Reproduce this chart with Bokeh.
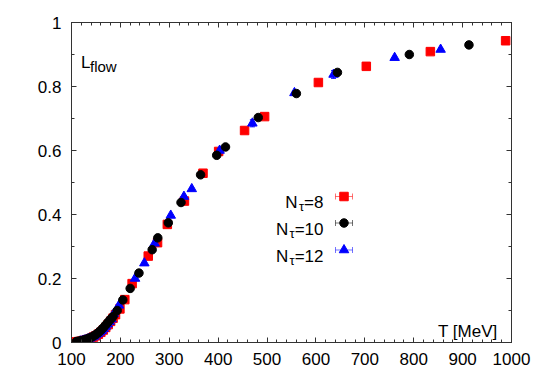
from bokeh.plotting import figure
from bokeh.models import (Range1d, LinearAxis, FixedTicker, CustomJSTickFormatter,
                          Label, Whisker, TeeHead, ColumnDataSource)
from bokeh.embed import file_html
from bokeh.resources import INLINE

# ---------------- data ----------------
T8 = [110, 115, 120, 125, 130, 135, 140, 145, 150, 155, 160, 165, 170, 175, 180, 185, 190,
      199, 209, 224, 257, 276, 296, 331, 369, 401, 454, 495, 605, 703, 834, 988]
L8 = [0.002, 0.003, 0.004, 0.006, 0.008, 0.010, 0.013, 0.017, 0.021, 0.026, 0.032, 0.039,
      0.047, 0.056, 0.066, 0.076, 0.087, 0.105, 0.134, 0.184, 0.270, 0.312, 0.369, 0.442,
      0.529, 0.597, 0.6625, 0.706, 0.8125, 0.863, 0.909, 0.943]
E8 = [0.002] * 17 + [0.003] * 15

T10 = [110, 114, 118, 122, 126, 130, 135, 140, 145, 150, 155, 160, 165, 170, 175, 180, 185,
       193.5, 205, 220, 238, 265, 276.5, 298, 324, 364, 397, 415, 482, 560, 644, 791, 913]
L10 = [0.003, 0.004, 0.005, 0.006, 0.008, 0.010, 0.013, 0.016, 0.020, 0.025, 0.031, 0.038,
       0.046, 0.055, 0.064, 0.073, 0.081, 0.100, 0.133, 0.169, 0.217, 0.290, 0.327, 0.374,
       0.4375, 0.524, 0.585, 0.611, 0.703, 0.778, 0.844, 0.900, 0.930]
E10 = [0.002] * 17 + [0.003] * 16

T12 = [118, 122, 126, 130, 134, 138, 142, 146, 150, 154, 158, 162, 166, 170, 174, 178, 182,
       186.5, 197, 230, 249, 270, 303, 330, 346, 403, 470, 556, 636, 761, 855]
L12 = [0.004, 0.005, 0.007, 0.009, 0.011, 0.013, 0.016, 0.019, 0.023, 0.027, 0.032, 0.037,
       0.043, 0.050, 0.057, 0.065, 0.073, 0.090, 0.116, 0.200, 0.248, 0.310, 0.397, 0.456,
       0.480, 0.600, 0.685, 0.780, 0.8375, 0.890, 0.9156]
E12 = [0.002] * 17 + [0.003] * 9 + [0.011, 0.006, 0.012, 0.004, 0.004]

x_ticks = [100, 200, 300, 400, 500, 600, 700, 800, 900, 1000]
x_minor = [100 + 20 * i for i in range(46)]
y_ticks = [0, 0.2, 0.4, 0.6, 0.8, 1.0]
y_minor = [0.1 * i for i in range(11)]

series_labels = ["=8", "=10", "=12"]
colors = ["#ff0000", "#000000", "#0000ff"]
FONT = "Liberation Sans"

# ---------------- layout ----------------
W, H = 537, 374
BL, BR, BT, BB = 71, 26, 22, 32
FW, FH = W - BL - BR, H - BT - BB
X0, X1, Y0, Y1 = 100, 1000, 0, 1


def dx(px):  # canvas px -> data x
    return X0 + (px - BL) * (X1 - X0) / FW


def dy(py):  # canvas px -> data y
    return Y0 + (BT + FH - py) * (Y1 - Y0) / FH


p = figure(width=W, height=H, x_range=Range1d(X0, X1), y_range=Range1d(Y0, Y1),
           output_backend="svg", toolbar_location=None,
           min_border_left=BL, min_border_right=BR, min_border_top=BT, min_border_bottom=BB)
p.grid.visible = False
p.background_fill_color = "white"
p.border_fill_color = "white"
p.outline_line_color = "#333333"
p.outline_line_width = 1

fmt_y = CustomJSTickFormatter(code="return (Math.round(tick*10)/10).toString();")
blank = CustomJSTickFormatter(code="return '';")

for ax in (p.xaxis[0], p.yaxis[0]):
    ax.axis_line_color = "#333333"
    ax.major_tick_line_color = "#333333"
    ax.minor_tick_line_color = "#333333"
    ax.major_tick_in = 5
    ax.major_tick_out = 0
    ax.minor_tick_in = 3
    ax.minor_tick_out = 0
    ax.major_label_text_font = FONT
    ax.major_label_text_font_size = "17px"
    ax.major_label_text_color = "black"
    ax.major_label_standoff = 10

p.xaxis[0].ticker = FixedTicker(ticks=x_ticks, minor_ticks=x_minor)
p.yaxis[0].ticker = FixedTicker(ticks=y_ticks, minor_ticks=y_minor)
p.yaxis[0].formatter = fmt_y

top = LinearAxis(ticker=FixedTicker(ticks=x_ticks, minor_ticks=x_minor), formatter=blank)
right = LinearAxis(ticker=FixedTicker(ticks=y_ticks, minor_ticks=y_minor), formatter=blank)
for ax in (top, right):
    ax.axis_line_color = "#333333"
    ax.major_tick_line_color = "#333333"
    ax.minor_tick_line_color = "#333333"
    ax.major_tick_in = 5
    ax.major_tick_out = 0
    ax.minor_tick_in = 3
    ax.minor_tick_out = 0
    ax.major_label_standoff = 0
    ax.major_label_text_font_size = "1px"
p.add_layout(top, "above")
p.add_layout(right, "right")

# ---------------- data marks ----------------
markers = ["square", "circle", "triangle"]
sizes = [8.5, 8.5, 9.5]
datasets = [(T8, L8, E8), (T10, L10, E10), (T12, L12, E12)]
order = [0, 2, 1]
for i in order:
    T, L, E = datasets[i]
    src = ColumnDataSource(dict(T=T, L=L, lo=[a - b for a, b in zip(L, E)],
                                hi=[a + b for a, b in zip(L, E)]))
    wh = Whisker(source=src, base="T", lower="lo", upper="hi", dimension="height",
                 line_color=colors[i], line_width=1, level="underlay",
                 upper_head=TeeHead(size=5, line_color=colors[i], line_width=1),
                 lower_head=TeeHead(size=5, line_color=colors[i], line_width=1))
    p.add_layout(wh)
    p.scatter("T", "L", source=src, marker=markers[i], size=sizes[i],
              fill_color=colors[i], line_color=colors[i])

# ---------------- texts ----------------
p.add_layout(Label(x=dx(80.5), y=dy(62), text="L", text_font=FONT, text_font_size="17px",
                   text_baseline="alphabetic", text_align="left", text_color="black"))
p.add_layout(Label(x=dx(89.5), y=dy(66), text="flow", text_font=FONT, text_font_size="15px",
                   text_baseline="alphabetic", text_align="left", text_color="black"))
p.add_layout(Label(x=dx(497), y=dy(331), text="T [MeV]", text_font=FONT, text_font_size="17px",
                   text_baseline="alphabetic", text_align="right", text_color="black"))

# ---------------- legend ----------------
row_y = [196, 222.5, 249.5]
text_right = 323
eq_w = [19.4, 28.8, 28.8]
for k in range(3):
    by = row_y[k] + 6
    p.add_layout(Label(x=dx(text_right), y=dy(by), text=series_labels[k],
                       text_font=FONT, text_font_size="17px", text_baseline="alphabetic",
                       text_align="right", text_color="black"))
    tx = text_right - eq_w[k]
    p.add_layout(Label(x=dx(tx), y=dy(by + 4), text="τ", text_font=FONT, text_font_size="13px",
                       text_baseline="alphabetic", text_align="right", text_color="black"))
    p.add_layout(Label(x=dx(tx - 6.5), y=dy(by), text="N", text_font=FONT, text_font_size="17px",
                       text_baseline="alphabetic", text_align="right", text_color="black"))
    lsrc = ColumnDataSource(dict(b=[dy(row_y[k])], lo=[dx(335)], hi=[dx(352)], x=[dx(343.5)]))
    p.add_layout(Whisker(source=lsrc, base="b", lower="lo", upper="hi", dimension="width",
                         line_color=colors[k], line_alpha=0.55, line_width=1,
                         upper_head=TeeHead(size=6, line_color=colors[k], line_alpha=0.55),
                         lower_head=TeeHead(size=6, line_color=colors[k], line_alpha=0.55)))
    p.scatter("x", "b", source=lsrc, marker=markers[k], size=sizes[k],
              fill_color=colors[k], line_color=colors[k])

open("out.html", "w").write(file_html(p, INLINE))
